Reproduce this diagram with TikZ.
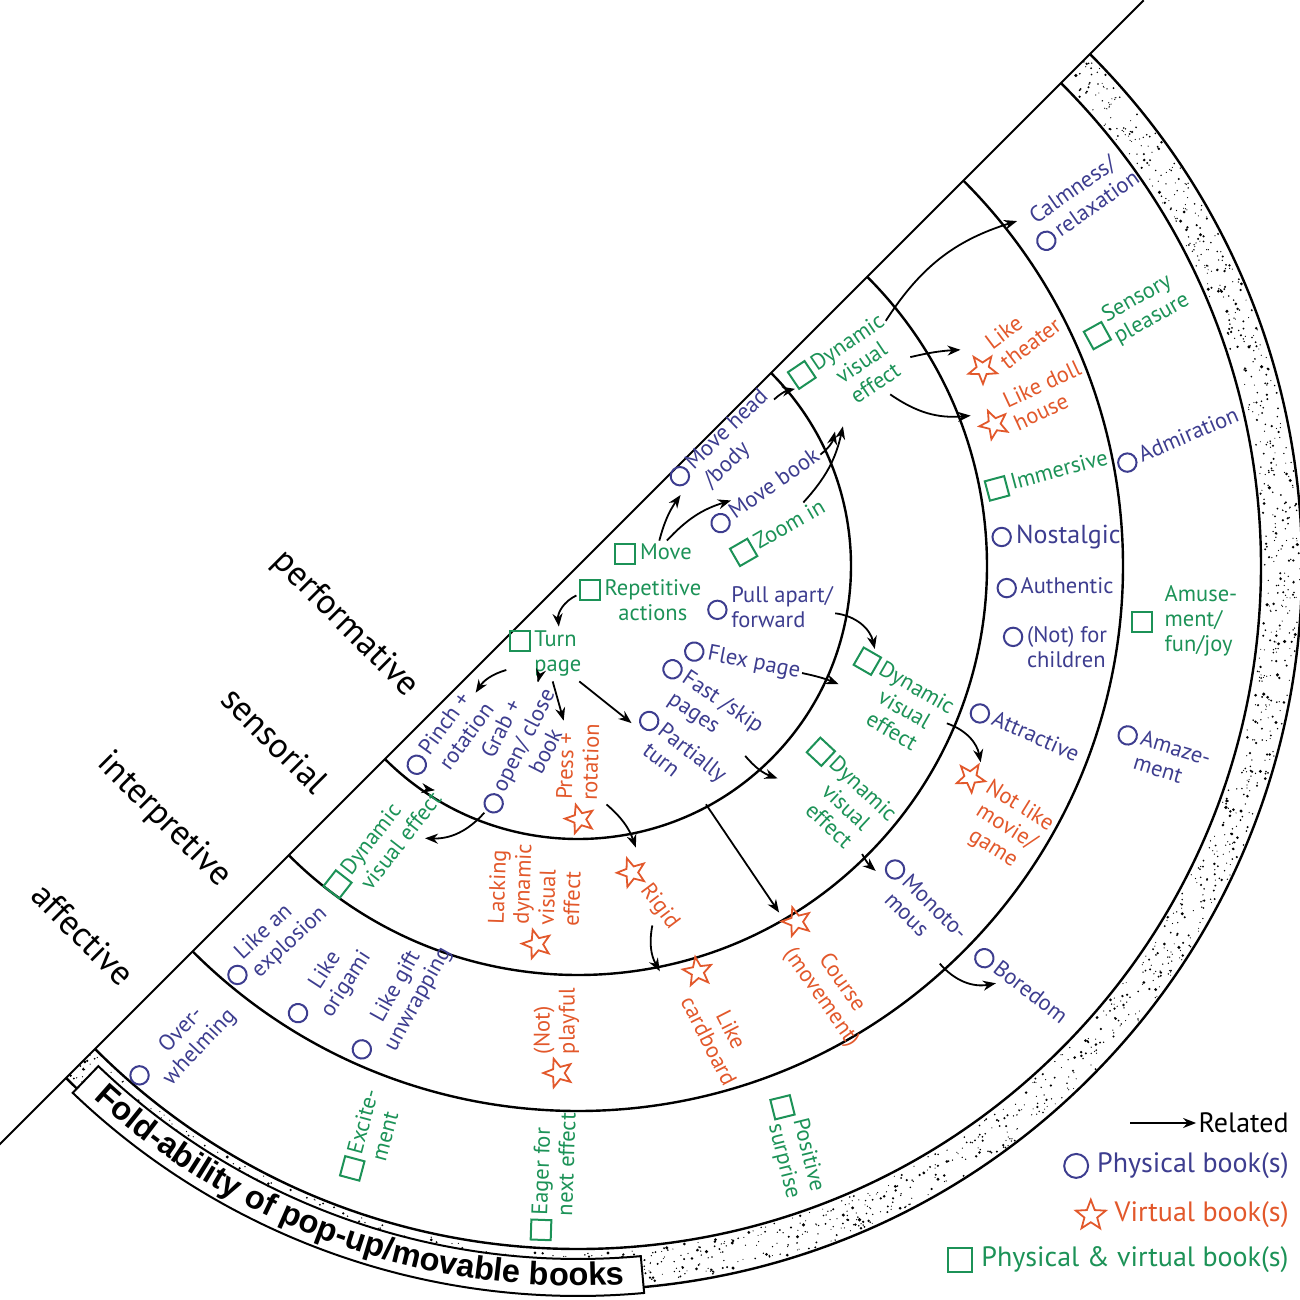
\documentclass[tikz,border=0pt]{standalone}
\usepackage{fontspec}
\setmainfont{PT Sans}
\newfontfamily\titlefont{Liberation Sans}
\usepackage{tikz}
\usetikzlibrary{arrows.meta,decorations.text}
\definecolor{physblue}{HTML}{3D3D8F}
\definecolor{virtorange}{HTML}{E2582B}
\definecolor{bothgreen}{HTML}{1C9257}

\newcommand{\circmark}[1][1]{\tikz[scale=#1,baseline={([yshift=-0.5ex]current bounding box.center)}]\draw[physblue,line width=1pt] (0,0) circle (4.6pt);}
\newcommand{\sqmark}[1][1]{\tikz[scale=#1,baseline={([yshift=-0.5ex]current bounding box.center)}]\draw[bothgreen,line width=1pt] (-5pt,-5pt) rectangle (5pt,5pt);}
\newcommand{\starmark}[1][1]{\tikz[scale=#1,baseline={([yshift=-0.5ex]current bounding box.center)}]\draw[virtorange,line width=0.9pt] (90:7.5pt)--(126:3.2pt)--(162:7.5pt)--(198:3.2pt)--(234:7.5pt)--(270:3.2pt)--(306:7.5pt)--(342:3.2pt)--(18:7.5pt)--(54:3.2pt)--cycle;}
\newcommand{\topl}[1]{\begin{tabular}[t]{@{}l@{}}#1\end{tabular}}
\newcommand{\topc}[1]{\begin{tabular}[t]{@{}c@{}}#1\end{tabular}}
\newcommand{\midl}[1]{\begin{tabular}[c]{@{}l@{}}#1\end{tabular}}
\newcommand{\midc}[1]{\begin{tabular}[c]{@{}c@{}}#1\end{tabular}}
\newcommand{\titlestyle}{\titlefont\bfseries\fontsize{16.25}{18}\selectfont}

\begin{document}
\begin{tikzpicture}[x=0.5pt,y=0.5pt,
  item/.style={inner sep=1pt,font=\fontsize{11.25}{12.5}\selectfont},
  phys/.style={item,text=physblue},
  virt/.style={item,text=virtorange},
  both/.style={item,text=bothgreen},
  ringline/.style={line width=1.2pt},
  relarrow/.style={-{Stealth[length=6.5pt,width=5pt]},line width=0.9pt},
  cat/.style={font=\fontsize{17.5}{20}\selectfont,rotate=-45,inner sep=0pt},
  legend/.style={font=\fontsize{14}{16}\selectfont,anchor=east,inner sep=1pt}]
\useasboundingbox (-578,-734) rectangle (722,566);

% stipple band
\pgfmathsetseed{5}
\foreach \i in {1,...,1500}{
  \pgfmathsetmacro{\dotang}{-135+180*rnd}
  \pgfmathsetmacro{\dotrad}{686+36*rnd}
  \fill (\dotang:\dotrad) circle ({0.55+1.3*rnd*rnd});
}
\draw[line width=1pt] (45:800) -- (225:830);
\foreach \rad in {273,409,545,683,724}
  \draw[ringline] (45:\rad) arc (45:-135:\rad);
\draw[fill=white,line width=1pt] (226.2:693) arc (226.2:275.2:693) -- (275.2:730) arc (275.2:226.2:730) -- cycle;
\path[decorate,decoration={text along path,text align=center,text={|\titlestyle|Fold-ability of pop-up/movable books}}] (226.2:720) arc (226.2:275.2:720);

\node[cat] (cperf) at (-233,-58) {performative};
\node[cat] (csens) at (-303,-174) {sensorial};
\node[cat] (cinterp) at (-414,-254) {interpretive};
\node[cat] (caff) at (-495,-368) {affective};

% performative
\node[both] (mv) at (75,12) {\sqmark\,Move};
\node[both] (rep) at (62,-37) {\sqmark\,\topc{Repetitive\\actions}};
\node[both] (turn) at (-33,-88) {\sqmark\,\topl{Turn\\page}};
\node[phys,rotate=44] (mh) at (150,118) {\circmark\,\topl{Move head\\/body}};
\node[phys,rotate=35] (mb) at (187,74) {\circmark\,Move book};
\node[both,rotate=30] (zi) at (201,34) {\sqmark\,Zoom in};
\node[phys] (pull) at (192,-44) {\circmark\,\midl{Pull apart/\\forward}};
\node[phys,rotate=-11] (flex) at (164,-95) {\circmark\,Flex page};
\node[phys,rotate=-34] (fast) at (127,-141) {\circmark\,\topl{Fast /skip\\pages}};
\node[phys,rotate=-38] (part) at (96,-191) {\circmark\,\topl{Partially\\turn}};
\node[phys,rotate=54] (pinch) at (-127,-174) {\circmark\,\topl{Pinch +\\rotation}};
\node[phys,rotate=63] (grab) at (-58,-186) {\circmark\,\midc{Grab +\\open/ close\\book}};
\node[virt,rotate=88] (press) at (2,-213) {\starmark\,\midl{Press +\\rotation}};

% sensorial
\node[both,rotate=34] (dvt) at (274,194) {\sqmark\,\topc{Dynamic\\visual\\effect}};
\node[both,rotate=-30] (dvm) at (314,-139) {\sqmark\,\topc{Dynamic\\visual\\effect}};
\node[both,rotate=-43] (dvl) at (257,-234) {\sqmark\,\topc{Dynamic\\visual\\effect}};
\node[both,rotate=52] (dvll) at (-193,-279) {\sqmark\,\topl{Dynamic\\visual effect}};
\node[virt,rotate=-53] (rigid) at (71,-327) {\starmark\,Rigid};
\node[virt,rotate=88] (lack) at (-41,-336) {\starmark\,\midl{Lacking\\dynamic\\visual\\effect}};

% interpretive
\node[virt,rotate=37] (theat) at (433,220) {\starmark\,\midl{Like\\theater}};
\node[virt,rotate=25] (doll) at (455,161) {\starmark\,\midl{Like doll\\house}};
\node[both,rotate=15] (imm) at (469,91) {\sqmark\,Immersive};
\node[phys,font=\fontsize{13}{14}\selectfont] (nost) at (478,29) {\circmark\,Nostalgic};
\node[phys] (auth) at (477,-22) {\circmark\,Authentic};
\node[phys] (child) at (477,-84) {\circmark\,\topl{(Not) for\\children}};
\node[phys,rotate=-24] (attr) at (446,-167) {\circmark\,Attractive};
\node[virt,rotate=-32] (movie) at (414,-252) {\starmark\,\topc{Not like\\movie/\\game}};
\node[phys,rotate=-45] (mono) at (338,-343) {\circmark\,\topl{Monoto-\\mous}};
\node[virt,rotate=-55] (course) at (244,-410) {\starmark\,\topc{Course\\(movement)}};
\node[virt,rotate=-63] (card) at (133,-455) {\starmark\,\topc{Like\\cardboard}};
\node[virt,rotate=90] (playful) at (-21,-472) {\starmark\,\midl{(Not)\\playful}};
\node[phys,rotate=43] (expl) at (-305,-376) {\circmark\,\midl{Like an\\explosion}};
\node[phys,rotate=57] (orig) at (-248,-422) {\circmark\,\topc{Like\\origami}};
\node[phys,rotate=61] (gift) at (-176,-438) {\circmark\,\topc{Like gift\\unwrapping}};

% affective
\node[phys,rotate=35] (calm) at (503,364) {\begin{tabular}[b]{@{}c@{}}Calmness/\\\circmark\,relaxation\end{tabular}};
\node[both,rotate=29] (pleas) at (557,251) {\sqmark\,\midl{Sensory\\pleasure}};
\node[phys,rotate=23] (adm) at (600,125) {\circmark\,Admiration};
\node[both] (amuse) at (606,-56) {\sqmark\hspace{6pt}\midl{Amuse-\\ment/\\fun/joy}};
\node[phys,rotate=-17] (amaze) at (582,-193) {\circmark\,\topl{Amaze-\\ment}};
\node[phys,rotate=-38] (bore) at (442,-420) {\circmark\,Boredom};
\node[phys,rotate=47] (over) at (-395,-482) {\circmark\,\topc{Over-\\whelming}};
\node[both,rotate=75] (excite) at (-204,-572) {\sqmark\,\topl{Excite-\\ment}};
\node[both,rotate=88] (eager) at (-22,-611) {\sqmark\,\topl{Eager for\\next effect}};
\node[both,rotate=-76] (pos) at (214,-580) {\sqmark\,\midc{Positive\\surprise}};

\draw[relarrow] (rep) to[bend right=35] (turn);
\draw[relarrow] (mv) to[bend left=10] (mh);
\draw[relarrow] (mv) to[bend left=15] (mb);
\draw[relarrow] (mh) to[bend left=15] (dvt);
\draw[relarrow] (mb) to[bend right=20] (dvt);
\draw[relarrow] (zi) to[bend right=15] (dvt);
\draw[relarrow] (turn) to[bend right=20] (pinch);
\draw[relarrow] (turn) -- (grab);
\draw[relarrow] (turn) -- (press);
\draw[relarrow] (turn) -- (part);
\draw[relarrow] (pinch) to[bend left=10] (dvll);
\draw[relarrow] (grab) to[bend left=25] (dvll);
\draw[relarrow] (press) to[bend left=15] (rigid);
\draw[relarrow] (part) -- (course);
\draw[relarrow] (fast) to[bend right=15] (dvl);
\draw[relarrow] (flex) to[bend left=5] (dvm);
\draw[relarrow] (pull) to[bend left=35] (dvm);
\draw[relarrow] (dvt) to[bend left=20] (calm);
\draw[relarrow] (dvt) to[bend left=5] (theat);
\draw[relarrow] (dvt) to[bend right=20] (doll);
\draw[relarrow] (dvm) to[bend left=30] (movie);
\draw[relarrow] (dvl) to[bend right=10] (mono);
\draw[relarrow] (mono) to[bend right=30] (bore);
\draw[relarrow] (rigid) to[bend right=20] (card);

% legend
\coordinate (relfrom) at (552,-557);
\node[legend] (relate) at (713,-557) {Related};
\draw[relarrow] (relfrom) -- (relate);
\node[legend,text=physblue] (lphys) at (713,-600) {\circmark[1.3]\hspace{4pt}Physical book(s)};
\node[legend,text=virtorange] (lvirt) at (713,-648) {\starmark[1.05]\hspace{4pt}Virtual book(s)};
\node[legend,text=bothgreen] (lboth) at (713,-694) {\sqmark[1.2]\hspace{4pt}Physical \& virtual book(s)};
\end{tikzpicture}
\end{document}
